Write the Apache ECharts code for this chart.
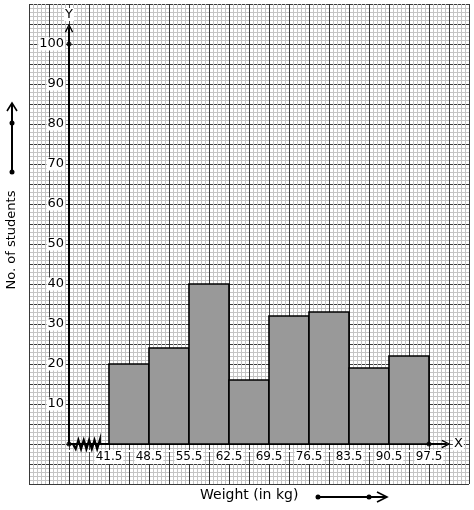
<!DOCTYPE html>
<html>
<head>
<meta charset="utf-8">
<script src="https://cdn.jsdelivr.net/npm/echarts@6/dist/echarts.min.js"></script>
<style>
  html, body { margin: 0; padding: 0; background: #fff; }
  #chart { width: 474px; height: 510px; }
</style>
</head>
<body>
<div id="chart"></div>
<script>
// class intervals (weight in kg) and number of students
const lowerBounds = [41.5, 48.5, 55.5, 62.5, 69.5, 76.5, 83.5, 90.5];
const upperBounds = [48.5, 55.5, 62.5, 69.5, 76.5, 83.5, 90.5, 97.5];
const students = [20, 24, 40, 16, 32, 33, 19, 22];
const xTickLabels = [41.5, 48.5, 55.5, 62.5, 69.5, 76.5, 83.5, 90.5, 97.5];
const yTickLabels = [10, 20, 30, 40, 50, 60, 70, 80, 90, 100];
const axisDots = [[34.5, 100], [34.5, 0], [97.5, 0]];
const kinkRange = [35.2, 39.9];

const font = 'DejaVu Sans';
const chevron = 'path://M0,10 L5,0 L10,10 L8.6,10.8 L5,3.2 L1.4,10.8 Z';

const chart = echarts.init(document.getElementById('chart'));

const paperAxis = (max) => ({
  type: 'value',
  min: 0,
  max: max,
  interval: 5,
  axisLine: { show: false },
  axisTick: { show: false },
  axisLabel: { show: false },
  minorTick: { show: false, splitNumber: 5 },
  splitLine: { show: true, lineStyle: { color: '#3a3a3a', width: 1 } },
  minorSplitLine: { show: true, lineStyle: { color: '#c4c4c4', width: 1 } },
  silent: true
});

const bars = lowerBounds.map((lo, i) => [lo, upperBounds[i], students[i]]);

const option = {
  animation: false,
  textStyle: { fontFamily: font },
  grid: [
    { left: 29, top: 4, width: 440, height: 480 },
    { left: 69, top: 28, right: 28, bottom: 66 }
  ],
  xAxis: [
    Object.assign({ gridIndex: 0 }, paperAxis(110)),
    {
      gridIndex: 1,
      type: 'value',
      min: 34.5,
      max: 34.5 + 377 * 7 / 40,
      interval: 3.5,
      name: 'X',
      nameLocation: 'end',
      nameGap: 3,
      nameTextStyle: { color: '#000', fontSize: 13, fontFamily: font, backgroundColor: '#fff', padding: [0, 1] },
      axisLine: {
        show: true,
        onZero: false,
        symbol: ['none', chevron],
        symbolSize: [11, 9],
        lineStyle: { color: '#000', width: 2 }
      },
      axisTick: { show: false },
      splitLine: { show: false },
      axisLabel: {
        color: '#000',
        fontSize: 12,
        fontFamily: font,
        margin: 6,
        backgroundColor: '#fff',
        padding: [1, 1],
        showMinLabel: true,
        showMaxLabel: true,
        formatter: (v) => xTickLabels.some((t) => Math.abs(t - v) < 1e-6) ? v.toFixed(1) : ''
      }
    }
  ],
  yAxis: [
    Object.assign({ gridIndex: 0 }, paperAxis(120)),
    {
      gridIndex: 1,
      type: 'value',
      min: 0,
      max: 104,
      interval: 10,
      name: 'Y',
      nameLocation: 'end',
      nameGap: 7,
      nameTextStyle: { color: '#000', fontSize: 13, fontFamily: font, backgroundColor: '#fff', padding: [0, 1] },
      axisLine: {
        show: true,
        onZero: false,
        symbol: ['none', chevron],
        symbolSize: [11, 9],
        lineStyle: { color: '#000', width: 2 }
      },
      axisTick: { show: false },
      splitLine: { show: false },
      axisLabel: {
        color: '#000',
        fontSize: 13,
        fontFamily: font,
        margin: 4,
        backgroundColor: '#fff',
        padding: [0, 1],
        formatter: (v) => yTickLabels.includes(v) ? String(v) : ''
      }
    }
  ],
  series: [
    {
      type: 'custom',
      xAxisIndex: 1,
      yAxisIndex: 1,
      data: bars,
      z: 3,
      renderItem: (params, api) => {
        const p0 = api.coord([api.value(0), api.value(2)]);
        const p1 = api.coord([api.value(1), 0]);
        return {
          type: 'rect',
          shape: { x: p0[0], y: p0[1], width: p1[0] - p0[0], height: p1[1] - p0[1] },
          style: { fill: '#999999', stroke: '#000', lineWidth: 1.6 }
        };
      }
    },
    {
      // axis break (kink) between the origin and the first class
      type: 'custom',
      xAxisIndex: 1,
      yAxisIndex: 1,
      data: [kinkRange],
      z: 4,
      renderItem: (params, api) => {
        const a = api.coord([api.value(0), 0]);
        const b = api.coord([api.value(1), 0]);
        const teeth = 5;
        const step = (b[0] - a[0]) / (teeth * 2);
        const pts = [[a[0], a[1]]];
        for (let i = 1; i <= teeth * 2; i++) {
          pts.push([a[0] + step * i, a[1] + (i % 2 ? 5 : -4)]);
        }
        pts.push([b[0], a[1]]);
        return {
          type: 'polyline',
          shape: { points: pts },
          style: { fill: null, stroke: '#000', lineWidth: 2.2 }
        };
      }
    },
    {
      type: 'scatter',
      xAxisIndex: 1,
      yAxisIndex: 1,
      data: axisDots,
      symbolSize: 5,
      itemStyle: { color: '#000' },
      z: 5,
      silent: true
    }
  ],
  graphic: [
    {
      type: 'text',
      left: 200,
      top: 488,
      style: { text: 'Weight (in kg)', font: '14px "DejaVu Sans"', fill: '#000' }
    },
    {
      type: 'text',
      x: 12,
      y: 240,
      rotation: Math.PI / 2,
      style: { text: 'No. of students', font: '13px "DejaVu Sans"', fill: '#000', align: 'center', verticalAlign: 'middle' }
    },
    { type: 'line', shape: { x1: 12, y1: 172, x2: 12, y2: 104 }, style: { stroke: '#000', lineWidth: 2 } },
    { type: 'polyline', shape: { points: [[7, 111], [12, 103], [17, 111]] }, style: { stroke: '#000', lineWidth: 1.6, fill: null } },
    { type: 'circle', shape: { cx: 12, cy: 172, r: 2.5 }, style: { fill: '#000' } },
    { type: 'circle', shape: { cx: 12, cy: 123, r: 2.5 }, style: { fill: '#000' } },
    { type: 'line', shape: { x1: 318, y1: 497, x2: 387, y2: 497 }, style: { stroke: '#000', lineWidth: 2 } },
    { type: 'polyline', shape: { points: [[377, 492], [387, 497], [377, 502]] }, style: { stroke: '#000', lineWidth: 1.6, fill: null } },
    { type: 'circle', shape: { cx: 318, cy: 497, r: 2.5 }, style: { fill: '#000' } },
    { type: 'circle', shape: { cx: 369, cy: 497, r: 2.5 }, style: { fill: '#000' } }
  ]
};

chart.setOption(option);
</script>
</body>
</html>
